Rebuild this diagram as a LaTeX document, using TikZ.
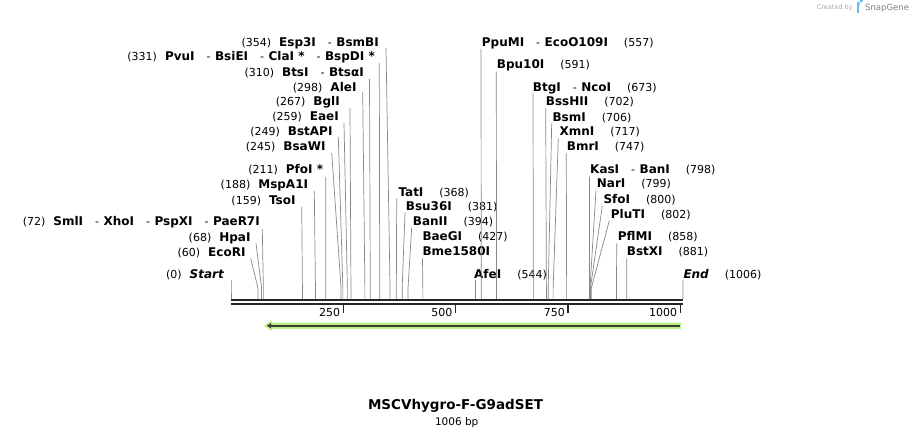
\documentclass[tikz,border=0pt]{standalone}
\usepackage{fontspec}
\setmainfont{DejaVu Sans}
\usetikzlibrary{arrows.meta, calc}
\definecolor{featgreen}{RGB}{186,242,130}
\definecolor{featdark}{RGB}{60,60,60}
\definecolor{leadgray}{RGB}{135,135,135}
\definecolor{sgblue}{RGB}{100,185,240}
\newcommand\enz[1]{{\fontsize{12}{13}\selectfont\bfseries #1}}
\newcommand\sepr{\hspace{12pt}{\mdseries\fontsize{11}{13}\selectfont -}\hspace{4.5pt}}
\newcommand\gapL{\hspace{8pt}}
\newcommand\gapR{\hspace{16pt}}

\begin{document}
\begin{tikzpicture}[
        x=1pt, y=-1pt,
        lab/.style = {inner sep=0pt, font=\fontsize{11}{13}\selectfont},
        llab/.style = {lab, anchor=base east},
        rlab/.style = {lab, anchor=base west},
        leader/.style = {leadgray, line width=0.7pt},
        backbone/.style = {black!85, line width=2.4pt},
        tick/.style = {black!85, line width=1.4pt},
        >=Stealth,
    ]
        \useasboundingbox (0,0) rectangle (914,438);

        % enzyme labels, left of their cut site
        \node[llab] (Esp3I) at (379,46.3) {(354)\gapL\enz{Esp3I\sepr BsmBI}};
        \node[llab] (PvuI) at (375,60.7) {(331)\gapL\enz{PvuI\sepr BsiEI\sepr ClaI *\sepr BspDI *}};
        \node[llab] (BtsI) at (364,76.3) {(310)\gapL\enz{BtsI\sepr BtsαI}};
        \node[llab] (AleI) at (356.7,91.3) {(298)\gapL\enz{AleI}};
        \node[llab] (BglI) at (340,105.7) {(267)\gapL\enz{BglI}};
        \node[llab] (EaeI) at (339,120.7) {(259)\gapL\enz{EaeI}};
        \node[llab] (BstAPI) at (332.7,135.7) {(249)\gapL\enz{BstAPI}};
        \node[llab] (BsaWI) at (325.7,150.7) {(245)\gapL\enz{BsaWI}};
        \node[llab] (PfoI) at (323.3,174) {(211)\gapL\enz{PfoI *}};
        \node[llab] (MspA1I) at (308.3,189) {(188)\gapL\enz{MspA1I}};
        \node[llab] (TsoI) at (295.7,204.7) {(159)\gapL\enz{TsoI}};
        \node[llab] (SmlI) at (260,225.7) {(72)\gapL\enz{SmlI\sepr XhoI\sepr PspXI\sepr PaeR7I}};
        \node[llab] (HpaI) at (250.7,241.3) {(68)\gapL\enz{HpaI}};
        \node[llab] (EcoRI) at (245.7,256.3) {(60)\gapL\enz{EcoRI}};
        \node[llab] (Start) at (224,279) {(0)\gapL\enz{\itshape Start}};

        % enzyme labels, right of their cut site
        \node[rlab] (TatI) at (398.3,196.3) {\enz{TatI}\gapR(368)};
        \node[rlab] (Bsu36I) at (405.7,210.7) {\enz{Bsu36I}\gapR(381)};
        \node[rlab] (BanII) at (412.7,225.7) {\enz{BanII}\gapR(394)};
        \node[rlab] (BaeGI) at (422.3,240.7) {\enz{BaeGI}\gapR(427)};
        \node[rlab] (Bme1580I) at (422.3,255.7) {\enz{Bme1580I}};
        \node[rlab] (AfeI) at (474,279) {\enz{AfeI}\gapR(544)};
        \node[rlab] (PpuMI) at (481.7,46.3) {\enz{PpuMI\sepr EcoO109I}\gapR(557)};
        \node[rlab] (Bpu10I) at (496.7,69) {\enz{Bpu10I}\gapR(591)};
        \node[rlab] (BtgI) at (532.7,91.3) {\enz{BtgI\sepr NcoI}\gapR(673)};
        \node[rlab] (BssHII) at (545.7,105.7) {\enz{BssHII}\gapR(702)};
        \node[rlab] (BsmI) at (552.3,121.3) {\enz{BsmI}\gapR(706)};
        \node[rlab] (XmnI) at (559.3,135.7) {\enz{XmnI}\gapR(717)};
        \node[rlab] (BmrI) at (566.7,150.7) {\enz{BmrI}\gapR(747)};
        \node[rlab] (KasI) at (590,174) {\enz{KasI\sepr BanI}\gapR(798)};
        \node[rlab] (NarI) at (596.7,188) {\enz{NarI}\gapR(799)};
        \node[rlab] (SfoI) at (603.3,204) {\enz{SfoI}\gapR(800)};
        \node[rlab] (PluTI) at (610.7,219) {\enz{PluTI}\gapR(802)};
        \node[rlab] (PflMI) at (617.7,240.7) {\enz{PflMI}\gapR(858)};
        \node[rlab] (BstXI) at (626.7,255.7) {\enz{BstXI}\gapR(881)};
        \node[rlab] (End) at (683.3,279) {\enz{\itshape End}\gapR(1006)};

        % leader lines: label -> knee -> cut site on the backbone
        \foreach \nm/\tx/\ty/\bp in {Esp3I/386/48/354, PvuI/379.3/63/331, BtsI/369.5/79/310,
            AleI/362.7/92/298, BglI/350/108/267, EaeI/344/123/259, BstAPI/338.3/137/249,
            BsaWI/331.7/153/245, PfoI/325.7/177/211, MspA1I/314.3/191/188, TsoI/301.7/207/159,
            SmlI/262.3/229/72, HpaI/256/243.3/68, EcoRI/250.7/258.3/60, Start/231/280/0,
            TatI/396.7/198.3/368, Bsu36I/405/212.7/381, BanII/411.7/227.3/394,
            Bme1580I/422.5/258.3/427, AfeI/475.4/280/544, PpuMI/481/49/557, Bpu10I/496.3/71.7/591,
            BtgI/533/93.3/673, BssHII/545.7/108.3/702, BsmI/551.7/123.3/706, XmnI/558.3/138.3/717,
            BmrI/566.3/153.3/747, KasI/589.5/176.7/798, NarI/596/190/799, SfoI/602.3/206/800,
            PluTI/609.3/220.7/802, PflMI/616.7/243.3/858, BstXI/626.7/258.3/881, End/683/280/1006}{
            \coordinate (\nm-top) at (\tx,\ty);
            \coordinate (\nm-knee) at ({231+\bp*0.4493},288);
            \coordinate (\nm-cut) at ({231+\bp*0.4493},299);
            \draw[leader] (\nm-top) -- (\nm-knee) -- (\nm-cut);
        }

        % backbone, two strands
        \coordinate (bb-start) at (231,300);
        \coordinate (bb-end) at (683,300);
        \draw[backbone] (bb-start) -- (bb-end);
        \draw[backbone] ($(bb-start)+(0,4.2)$) -- ($(bb-end)+(0,4.2)$);

        % scale ticks
        \foreach \t in {250,500,750,1000}{
            \draw[tick] ({231+\t*0.4493},305) -- ({231+\t*0.4493},313);
            \node[lab, anchor=base east] (tick\t) at ({228+\t*0.4493},316.7) {\t};
        }

        % feature arrow (reverse strand)
        \fill[featgreen] (681,322.6) -- (272,322.6) -- (272,320.4) -- (264,325.7)
            -- (272,331) -- (272,328.8) -- (681,328.8) -- cycle;
        \draw[featdark, line width=1.8pt, -{Triangle[length=4pt, width=5pt]}] (680,325.7) -- (267,325.7);

        % title
        \node[font=\bfseries\fontsize{13.5}{16}\selectfont] (title) at (455.5,406) {MSCVhygro-F-G9adSET};
        \node[inner sep=0pt, font=\fontsize{10.5}{12}\selectfont] (size) at (456.7,423) {1006 bp};

        % watermark
        \node[anchor=base west, inner sep=0pt, text=black!35, font=\fontsize{6.5}{8}\selectfont] (credit) at (816.7,10) {Created by};
        \fill[sgblue] (857,2.5) rectangle (859,13);
        \fill[sgblue] (859,2.5) -- (860.5,2.5) arc[start angle=90, end angle=-90, radius=2.6] -- (859,7.7) -- cycle;
        \node[anchor=base west, inner sep=0pt, text=black!50, font=\fontsize{8.5}{10}\selectfont] (snapgene) at (865,11) {SnapGene};
    \end{tikzpicture}
\end{document}
